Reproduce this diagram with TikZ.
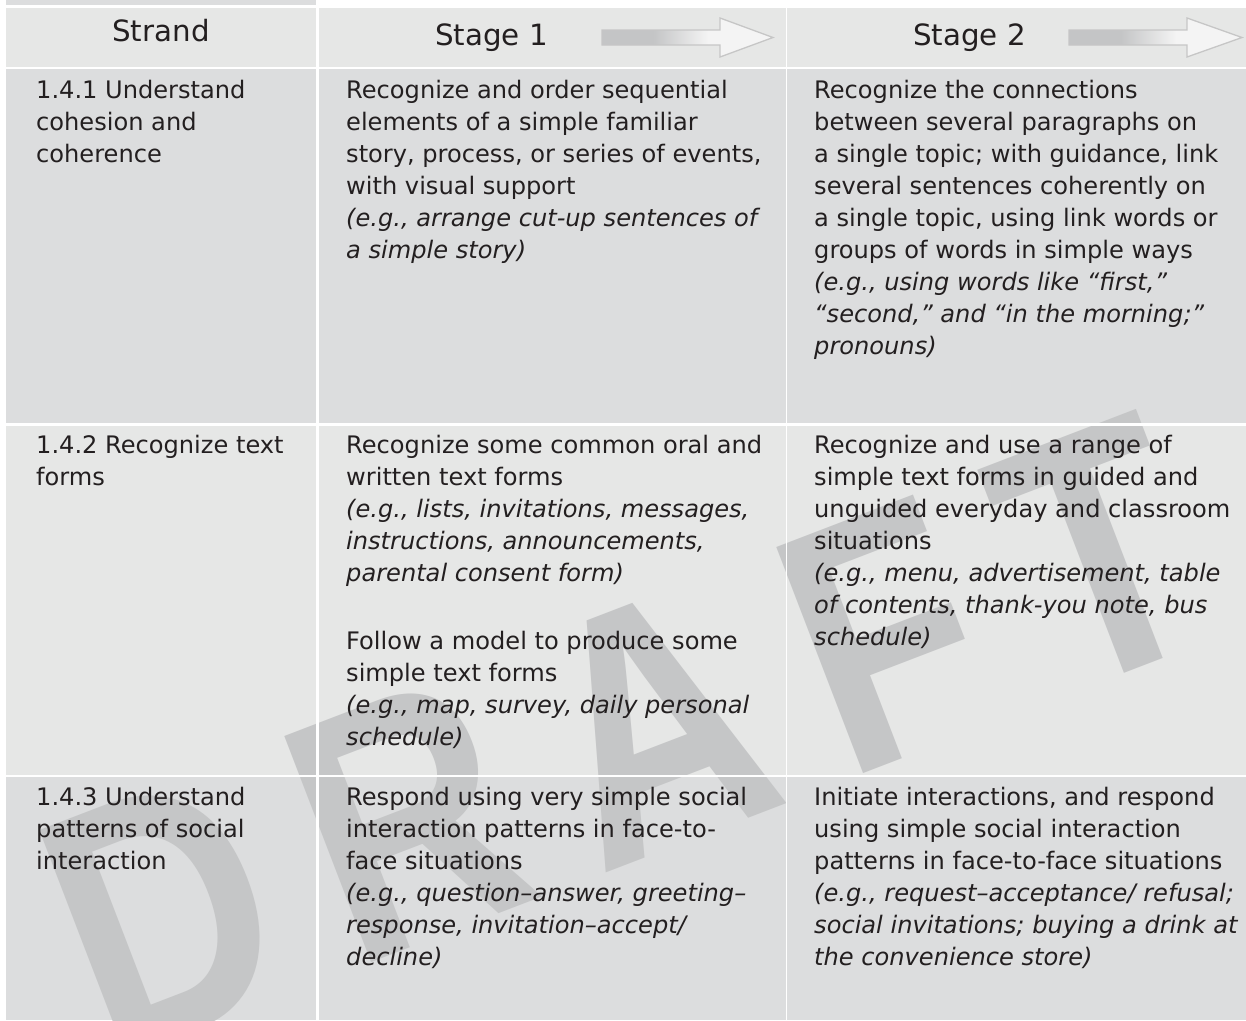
\documentclass[tikz,border=0pt]{standalone}
\usepackage{fontspec}
\setmainfont{DejaVu Sans}
\newfontfamily\markfont[FakeStretch=0.82]{Liberation Sans}
\usepackage{tikz}
\usetikzlibrary{positioning}

\definecolor{celllight}{HTML}{E6E7E6}
\definecolor{celldark}{HTML}{DCDDDE}
\definecolor{markgrey}{HTML}{C5C6C7}
\definecolor{inkgrey}{HTML}{231F20}
\definecolor{arrowgrey}{HTML}{C4C5C6}
\definecolor{arrowwhite}{HTML}{F4F4F4}
\definecolor{arrowedge}{HTML}{C6C6C6}
\pgfdeclarehorizontalshading{stagefade}{100bp}{color(0bp)=(arrowgrey); color(40bp)=(arrowgrey); color(56bp)=(arrowwhite); color(100bp)=(arrowwhite)}

\begin{document}
\begin{tikzpicture}[x=1pt,y=-1pt,
    cell/.style={inner sep=0pt,anchor=north west,align=left,text=inkgrey,
                 font=\fontsize{24.1}{32}\selectfont},
    head/.style={inner sep=0pt,text=inkgrey,font=\fontsize{29.3}{34}\selectfont},
    stagearrow/.style={draw=arrowedge,line width=1.3pt,shading=stagefade},
    watermark/.style={inner sep=0pt,anchor=base west,rotate=21,text=markgrey,
                 font=\markfont\bfseries\fontsize{352}{352}\selectfont}]
\useasboundingbox (0,0) rectangle (1246,1020);

% cell backgrounds
\fill[celldark] (6,0) rectangle (316,5);
\foreach \xa/\xb in {6/316,319/786,786/1246} {
    \fill[celllight] (\xa,8) rectangle (\xb,67);
    \fill[celldark] (\xa,67) rectangle (\xb,424);
    \fill[celllight] (\xa,424) rectangle (\xb,776);
    \fill[celldark] (\xa,776) rectangle (\xb,1020);
}

% watermark
\node[watermark] (draft) at (108,1064) {D\kern55pt R\kern55pt A\kern55pt F\kern55pt T};

% white rules between the cells
\draw[white,line width=2.6pt] (317.5,8) -- (317.5,1020);
\draw[white,line width=1.6pt] (786.5,8) -- (786.5,1020);
\foreach \y in {67.8,424.5,775.8}
    \draw[white,line width=2.6pt] (6,\y) -- (1246,\y);

% header
\node[head,anchor=base] (strand) at (161,41) {Strand};
\node[head,anchor=base west] (stage1) at (435,45) {Stage 1};
\node[head,anchor=base west] (stage2) at (913,45) {Stage 2};
\foreach \ax/\al in {602/53,1069/55}
    \draw[stagearrow] (\ax,30) -- ++(118,0) -- ++(0,-12) -- ++(\al,19.5)
        -- ++(-\al,19.5) -- ++(0,-12) -- ++(-118,0) -- cycle;

% 1.4.1
\node[cell] (s141) at (36,75.5) {\strut 1.4.1 Understand\\cohesion and\\coherence};
\node[cell] (a141) at (346,75.5) {\strut Recognize and order sequential\\
    elements of a simple familiar\\story, process, or series of events,\\
    with visual support\\\textit{(e.g., arrange cut-up sentences of}\\
    \textit{a simple story)}};
\node[cell] (b141) at (814,75.5) {\strut Recognize the connections\\
    between several paragraphs on\\a single topic; with guidance, link\\
    several sentences coherently on\\a single topic, using link words or\\
    groups of words in simple ways\\\textit{(e.g., using words like “first,”}\\
    \textit{“second,” and “in the morning;”}\\\textit{pronouns)}};

% 1.4.2
\node[cell] (s142) at (36,430.5) {\strut 1.4.2 Recognize text\\forms};
\node[cell] (a142) at (346,430.5) {\strut Recognize some common oral and\\
    written text forms\\\textit{(e.g., lists, invitations, messages,}\\
    \textit{instructions, announcements,}\\\textit{parental consent form)}\\[36pt]
    Follow a model to produce some\\simple text forms\\
    \textit{(e.g., map, survey, daily personal}\\\textit{schedule)}};
\node[cell] (b142) at (814,430.5) {\strut Recognize and use a range of\\
    simple text forms in guided and\\unguided everyday and classroom\\
    situations\\\textit{(e.g., menu, advertisement, table}\\
    \textit{of contents, thank-you note, bus}\\\textit{schedule)}};

% 1.4.3
\node[cell] (s143) at (36,782.5) {\strut 1.4.3 Understand\\patterns of social\\interaction};
\node[cell] (a143) at (346,782.5) {\strut Respond using very simple social\\
    interaction patterns in face-to-\\face situations\\
    \textit{(e.g., question–answer, greeting–}\\
    \textit{response, invitation–accept/}\\\textit{decline)}};
\node[cell] (b143) at (814,782.5) {\strut Initiate interactions, and respond\\
    using simple social interaction\\patterns in face-to-face situations\\
    \textit{(e.g., request–acceptance/ refusal;}\\
    \textit{social invitations; buying a drink at}\\
    \textit{the convenience store)}};
\end{tikzpicture}
\end{document}
